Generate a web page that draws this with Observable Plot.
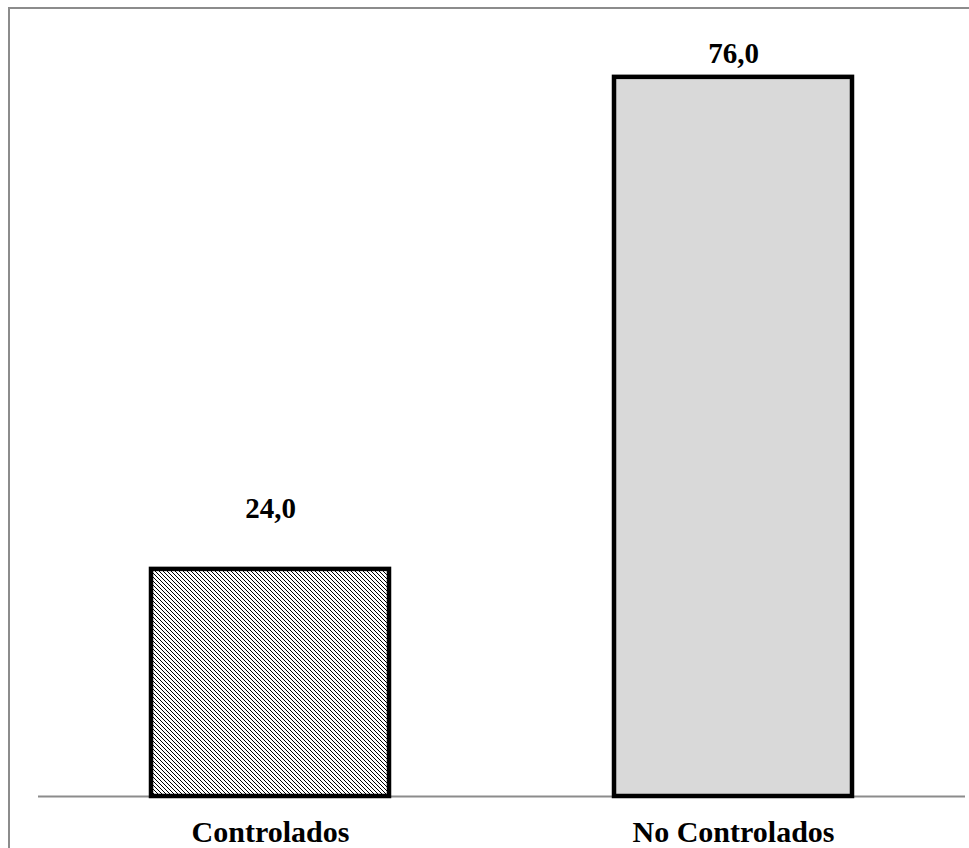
<!DOCTYPE html>
<html>
<head>
<meta charset="utf-8">
<script src="https://cdn.jsdelivr.net/npm/d3@7"></script>
<script src="https://cdn.jsdelivr.net/npm/@observablehq/plot@0.6"></script>
<style>
  html, body { margin: 0; padding: 0; background: #fff; }
  #wrap { position: relative; width: 969px; height: 848px; overflow: hidden; }
  #wrap svg { position: absolute; left: 0; top: 0; }
  /* chart-area border (left and top edges) */
  #border { position: absolute; left: 8px; top: 7px; width: 1000px; height: 900px;
            border-left: 2px solid #8c8c8c; border-top: 2px solid #8c8c8c; pointer-events: none; }
</style>
</head>
<body>
<div id="wrap"><div id="border"></div></div>
<script>
// Porcentaje de pacientes según control
const categories = ["Controlados", "No Controlados"];
const values = [24.0, 76.0];
const fills = ["url(#hatch)", "#d9d9d9"];

const data = categories.map((c, i) => ({category: c, value: values[i]}));
const fmt = v => v.toFixed(1).replace(".", ",");

const chart = Plot.plot({
  width: 969,
  height: 848,
  marginLeft: 38,
  marginRight: 4,
  marginTop: 39,
  marginBottom: 52,
  style: {fontFamily: "'Liberation Serif', 'Times New Roman', serif", fontSize: "30px", background: "transparent"},
  x: {domain: categories, paddingInner: 0.487, paddingOuter: 0.2425, label: null},
  y: {domain: [0, 80], axis: null},
  color: {type: "ordinal", domain: categories, range: fills},
  marks: [
    Plot.ruleY([0], {stroke: "#8c8c8c", strokeWidth: 2}),
    Plot.barY(data, {x: "category", y: "value", fill: "category", stroke: "#000", strokeWidth: 4.5, inset: 0}),
    Plot.text(data.filter(d => d.category === "Controlados"), {
      x: "category", y: "value", text: d => fmt(d.value), dy: -61,
      fontWeight: "bold", fontSize: 29, fill: "#000"
    }),
    Plot.text(data.filter(d => d.category === "No Controlados"), {
      x: "category", y: "value", text: d => fmt(d.value), dy: -24,
      fontWeight: "bold", fontSize: 29, fill: "#000"
    }),
    Plot.axisX({tickSize: 0, tickPadding: 24, fontWeight: "bold", fontSize: 30, fill: "#000", label: null})
  ]
});

// diagonal hatch used by the first bar
d3.select(chart).insert("defs", ":first-child").html(`
  <pattern id="hatch" patternUnits="userSpaceOnUse" width="4" height="4">
    <rect width="4" height="4" fill="#fff"/>
    <path d="M0,0 L4,4 M-1,3 L1,5 M3,-1 L5,1" stroke="#000" stroke-width="1"/>
  </pattern>`);

document.getElementById("wrap").prepend(chart);
</script>
</body>
</html>
